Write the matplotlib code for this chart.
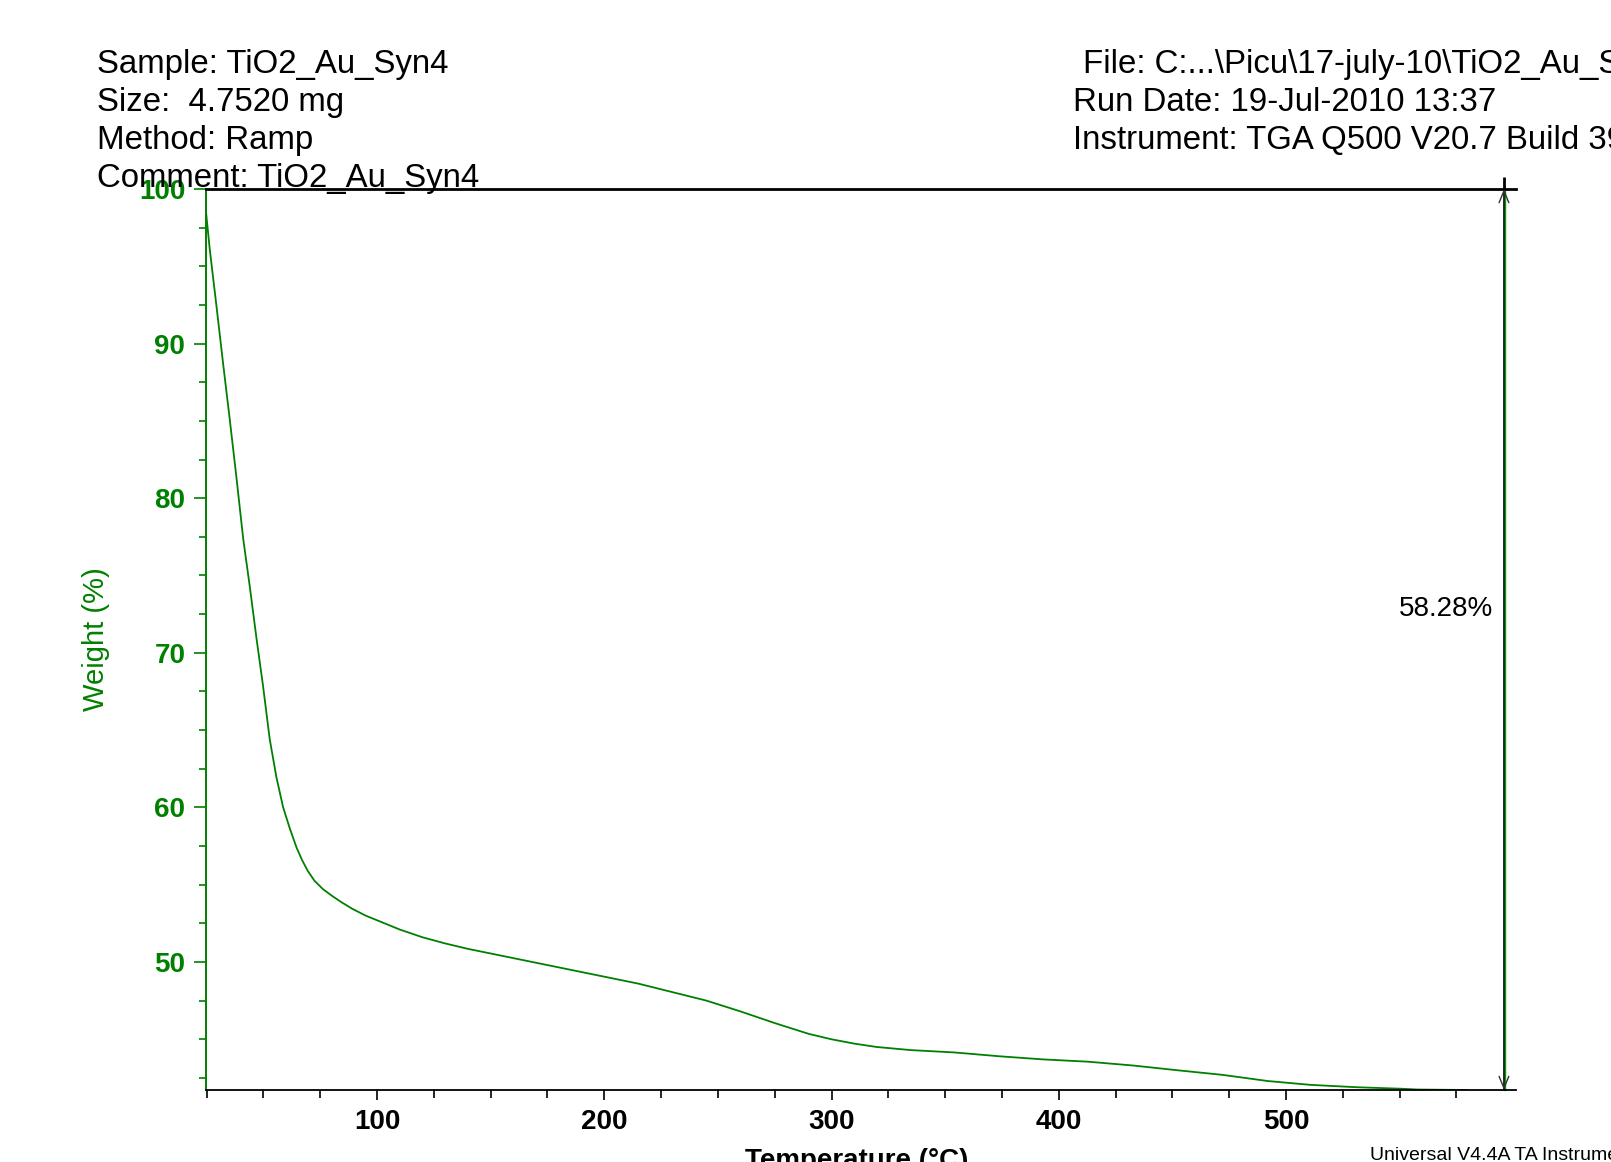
import matplotlib
matplotlib.use('Agg')
import matplotlib.pyplot as plt
from matplotlib.ticker import FixedLocator

plt.rcParams['font.family'] = ['Liberation Sans', 'DejaVu Sans']

# ---- data ----
temperature = [24.5, 24.7, 26.4, 29.3, 32.2, 35.2, 38.1, 41.1, 44.0, 47.0, 49.9,
               52.8, 55.8, 58.7, 61.6, 64.6, 67.0, 69.5, 72.5, 76.3, 80.0,
               84.0, 89.0, 95.0, 100.0, 110.0, 120.0, 130.0, 140.0, 155.0,
               170.0, 185.0, 200.0, 215.0, 230.0, 245.0, 260.0, 275.0, 290.0,
               300.0, 310.0, 320.0, 335.0, 354.0, 374.0, 393.0, 413.0, 433.0,
               452.0, 472.0, 492.0, 511.0, 531.0, 551.0, 558.0, 580.0]
weight = [100.0, 98.6, 96.1, 92.5, 88.8, 85.1, 81.4, 77.4, 74.3, 70.9, 67.8,
          64.4, 61.9, 60.0, 58.65, 57.4, 56.6, 55.9, 55.25, 54.7, 54.3,
          53.9, 53.45, 53.0, 52.7, 52.1, 51.6, 51.2, 50.85, 50.4,
          49.95, 49.5, 49.05, 48.6, 48.05, 47.5, 46.8, 46.05, 45.35,
          45.0, 44.72, 44.5, 44.3, 44.15, 43.9, 43.7, 43.55, 43.3,
          43.0, 42.7, 42.3, 42.05, 41.9, 41.8, 41.75, 41.72]

x_major = [100, 200, 300, 400, 500]
x_minor = [25, 50, 75, 125, 150, 175, 225, 250, 275, 325, 350, 375,
           425, 450, 475, 525, 550, 575]
y_major = [50, 60, 70, 80, 90, 100]
y_minor = [42.5, 45, 47.5, 52.5, 55, 57.5, 62.5, 65, 67.5, 72.5, 75, 77.5,
           82.5, 85, 87.5, 92.5, 95, 97.5]

loss_label = '58.28%'
loss_temperature = 595.9
weight_start = 100.0
weight_end = 41.72

header_left = ['Sample: TiO2_Au_Syn4', 'Size:  4.7520 mg', 'Method: Ramp',
               'Comment: TiO2_Au_Syn4']
header_right = ['File: C:...\\Picu\\17-july-10\\TiO2_Au_Syn4.001',
                'Run Date: 19-Jul-2010 13:37',
                'Instrument: TGA Q500 V20.7 Build 39']
footer = 'Universal V4.4A TA Instruments'
x_label = 'Temperature (°C)'
y_label = 'Weight (%)'

GREEN = '#008000'
W, H = 1611, 1162

fig = plt.figure(figsize=(W / 100, H / 100), dpi=100, facecolor='white')
ax = fig.add_axes([205.5 / W, 1 - 1090 / H, (1516 - 205.5) / W, (1090 - 189) / H])
ax.set_facecolor('white')

ax.plot(temperature, weight, color=GREEN, lw=1.3)
ax.set_xlim(24.53, 601.2)
ax.set_ylim(weight_end, weight_start)

ax.spines['right'].set_visible(False)
ax.spines['left'].set_color(GREEN)
ax.spines['left'].set_linewidth(1.4)
ax.spines['top'].set_color('black')
ax.spines['top'].set_linewidth(2.0)
ax.spines['bottom'].set_color('black')
ax.spines['bottom'].set_linewidth(1.3)

ax.set_xticks(x_major, labels=[str(v) for v in x_major], fontweight='bold')
ax.xaxis.set_minor_locator(FixedLocator(x_minor))
ax.set_yticks(y_major, labels=[str(v) for v in y_major], fontweight='bold')
ax.yaxis.set_minor_locator(FixedLocator(y_minor))

ax.tick_params(axis='x', which='major', direction='out', length=7, width=1.2,
               color='black', labelcolor='black', labelsize=20, pad=6.5,
               top=False)
ax.tick_params(axis='x', which='minor', direction='out', length=6, width=1.2,
               color='black', top=False)
ax.tick_params(axis='y', which='major', direction='out', length=8.5, width=1.2,
               color=GREEN, labelcolor=GREEN, labelsize=20, pad=6, right=False)
ax.tick_params(axis='y', which='minor', direction='out', length=5, width=1.2,
               color=GREEN, right=False)

# weight-loss step marker
ax.plot([loss_temperature, loss_temperature], [weight_end, weight_start + 0.75],
        color='black', lw=2.0, clip_on=False, solid_capstyle='butt')
ax.plot([loss_temperature + 0.6, loss_temperature + 0.6], [weight_end, weight_start],
        color='#00a000', lw=1.0, clip_on=False)
ax.annotate('', xy=(loss_temperature, weight_start),
            xytext=(loss_temperature, weight_end),
            arrowprops=dict(arrowstyle='<->,head_length=0.85,head_width=0.35',
                            color='#333333', lw=1.0, shrinkA=0, shrinkB=0,
                            mutation_scale=10),
            annotation_clip=False)
fig.text(1493 / W, 1 - 609 / H, loss_label, ha='right', va='center', fontsize=20)

# header
HEADER_SIZE = 23.8
for i, line in enumerate(header_left):
    fig.text(96.6 / W, 1 - (73 + 38 * i) / H, line, ha='left', va='baseline',
             fontsize=HEADER_SIZE)
right_x = [1083, 1072.6, 1072.6]
for i, line in enumerate(header_right):
    fig.text(right_x[i] / W, 1 - (73 + 38 * i) / H, line, ha='left',
             va='baseline', fontsize=HEADER_SIZE)

fig.text(95.5 / W, 1 - 639 / H, y_label, rotation=90, ha='center', va='center',
         color=GREEN, fontsize=21)
fig.text(857 / W, 1 - 1148 / H, x_label, ha='center', va='top', fontsize=20,
         fontweight='bold')
fig.text(1369.6 / W, 1 - 1156 / H, footer, ha='left', va='center', fontsize=14)

fig.savefig('out.png', dpi=100, facecolor='white')
